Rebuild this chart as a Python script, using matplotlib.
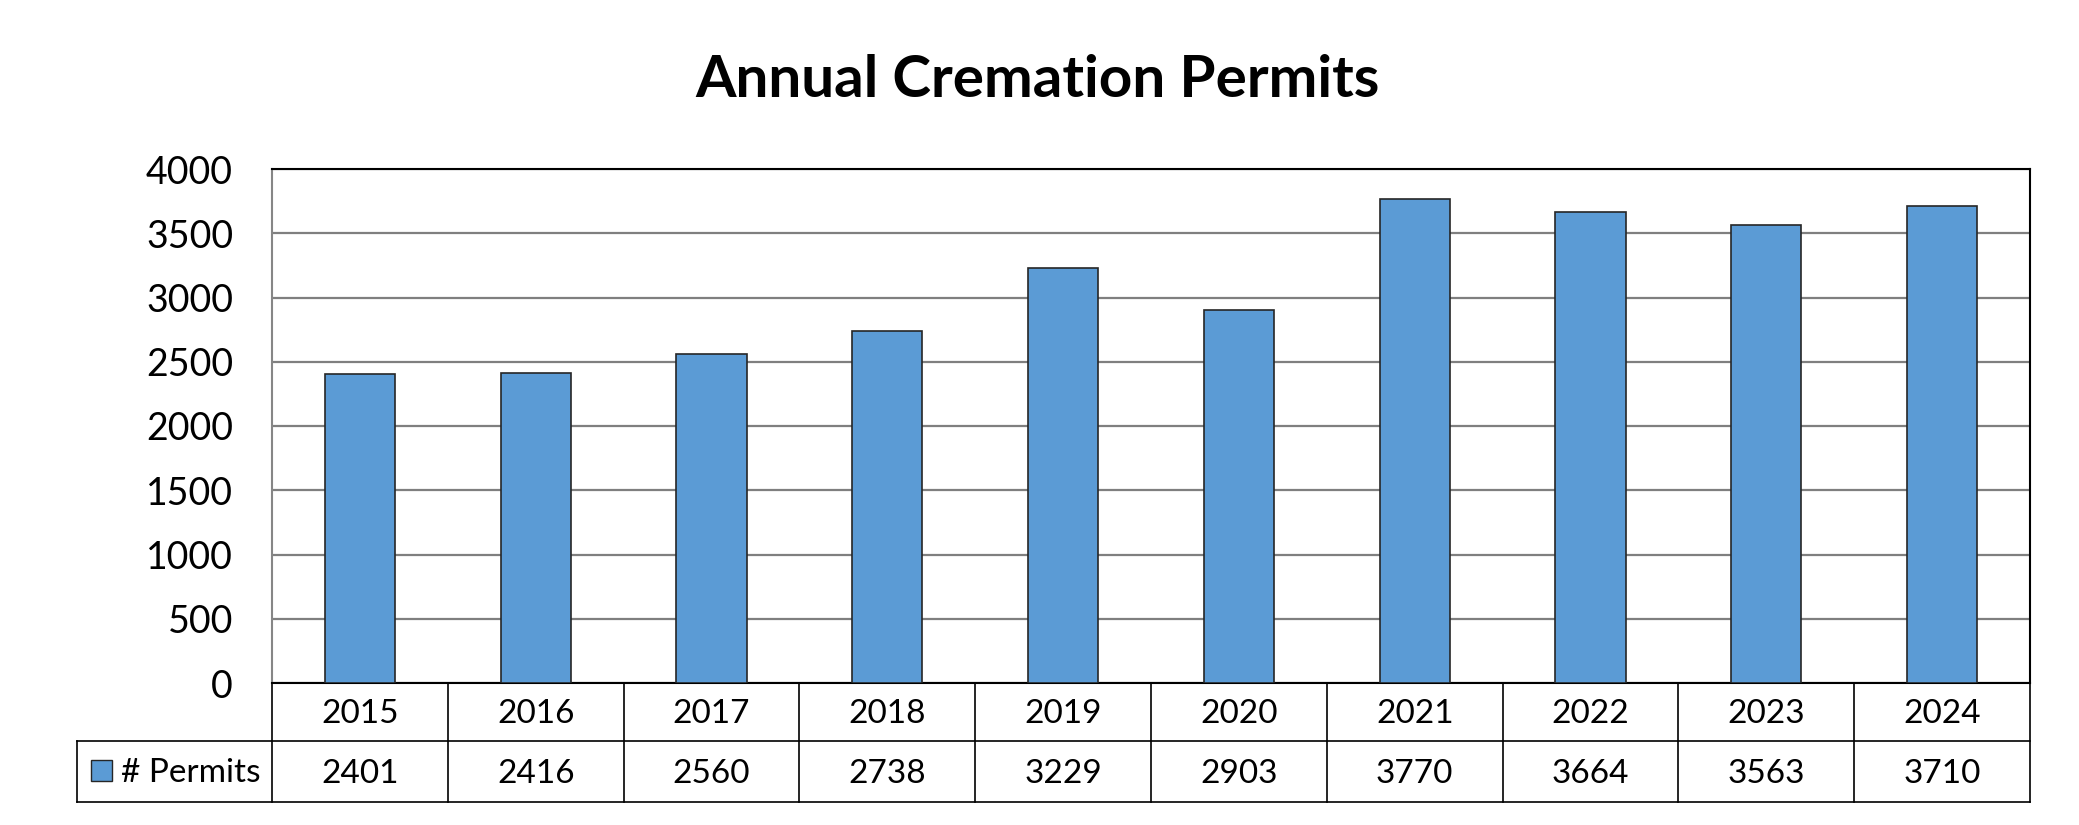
import matplotlib.pyplot as plt
from matplotlib.patches import Rectangle

# data
years = ['2015', '2016', '2017', '2018', '2019', '2020', '2021', '2022', '2023', '2024']
permits = [2401, 2416, 2560, 2738, 3229, 2903, 3770, 3664, 3563, 3710]
series_name = '# Permits'
title = 'Annual Cremation Permits'

plt.rcParams['font.family'] = ['Lato', 'DejaVu Sans']

W, H = 2079, 825
fig = plt.figure(figsize=(W / 100, H / 100), dpi=100)
ax = fig.add_axes([272 / W, 1 - 683 / H, (2030 - 272) / W, (683 - 169) / H])

bar_color = '#5B9BD5'
xs = list(range(len(years)))
ax.bar(xs, permits, width=0.4, color=bar_color, edgecolor='#262626', linewidth=1.2, zorder=3)
ax.set_xlim(-0.5, len(years) - 0.5)
ax.set_ylim(0, 4000)
ax.set_yticks(range(0, 4001, 500))
ax.set_xticks([])
ax.yaxis.grid(True, color='#7f7f7f', linewidth=1.6)
ax.set_axisbelow(True)
ax.tick_params(axis='y', length=0, labelsize=27, pad=28)

for side in ['top', 'right', 'bottom']:
    ax.spines[side].set_color('black')
    ax.spines[side].set_linewidth(1.5)
ax.spines['left'].set_color('#868686')
ax.spines['left'].set_linewidth(1.5)

# data table under the axis
tr = ax.get_xaxis_transform()
row1 = -58 / 514
row2 = -119 / 514
leg_left = -0.5 - (272 - 77) / ((2030 - 272) / len(years))
line_kw = dict(color='black', linewidth=1.2, transform=tr, clip_on=False)

for i in range(len(years) + 1):
    ax.plot([i - 0.5, i - 0.5], [0, row2], **line_kw)
ax.plot([leg_left, len(years) - 0.5], [row1, row1], **line_kw)
ax.plot([leg_left, len(years) - 0.5], [row2, row2], **line_kw)
ax.plot([leg_left, leg_left], [row1, row2], **line_kw)

for i, (yr, v) in enumerate(zip(years, permits)):
    ax.text(i, row1 / 2 - 0.004, yr, transform=tr, ha='center', va='center', fontsize=24, clip_on=False)
    ax.text(i, (row1 + row2) / 2 - 0.004, str(v), transform=tr, ha='center', va='center', fontsize=24, clip_on=False)

# legend key in the row header
fig.add_artist(Rectangle((91 / W, 1 - 781 / H), 21 / W, 21 / H, transform=fig.transFigure,
                         facecolor=bar_color, edgecolor='#262626', linewidth=1.0))
fig.text(121 / W, 1 - 773 / H, series_name, ha='left', va='center', fontsize=24)

fig.text(1038 / W, 1 - 97 / H, title, ha='center', va='baseline', fontsize=42, fontweight='bold')

fig.savefig('out.png', dpi=100, facecolor='white')
